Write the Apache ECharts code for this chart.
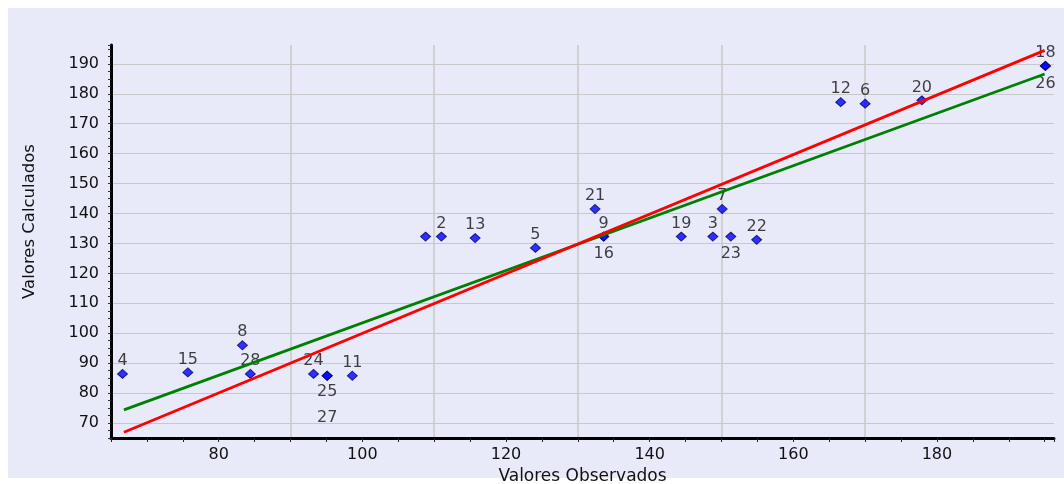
<!DOCTYPE html>
<html><head><meta charset="utf-8">
<script src="https://cdn.jsdelivr.net/npm/echarts@6/dist/echarts.min.js"></script>
<style>
html,body{margin:0;padding:0;background:#ffffff;}
#bg{position:absolute;left:8px;top:8px;width:1056px;height:470px;background:#E8EAFA;}
#chart{position:absolute;left:0;top:0;width:1064px;height:484px;}
</style></head>
<body><div id="bg"></div><div id="chart"></div>
<script>
// ---- data ----
const pointIds   = ['4','15','8','28','24','25','27','11','','2','13','5','21','9','16','19','3','7','23','22','12','6','20','18','26'];
const observed   = [66.6,75.7,83.3,84.4,93.2,95.1,95.1,98.6,108.8,111.0,115.7,124.1,132.4,133.6,133.6,144.4,148.8,150.1,151.3,154.9,166.6,170.0,177.9,195.1,195.1];
const calculated = [86.4,86.9,96.0,86.4,86.4,85.8,85.8,85.8,132.3,132.3,131.8,128.5,141.5,132.3,132.3,132.3,132.3,141.5,132.3,131.2,177.2,176.7,177.8,189.3,189.3];
const idealLineX = [66.8, 195.0];
const idealLineY = [66.9, 194.5];
const fitLineX   = [66.8, 195.0];
const fitLineY   = [74.4, 186.6];
const xLabelValues = [80,100,120,140,160,180];
const yLabelValues = [70,80,90,100,110,120,130,140,150,160,170,180,190];
const xGridValues  = [90,110,130,150,170];
const yGridValues  = [70,80,90,100,110,120,130,140,150,160,170,180,190];
const axisMin = 65, axisMax = 196.3;
const xStep = 5, yStep = 2.5;

// ---- styles ----
const FONT = 'DejaVu Sans';
const TXT = '#111111';
const GRIDC = '#C8C8C8';
const labelBelow = {'16':4,'23':4,'25':3,'26':5,'27':29};

function tickList(step){
  const t=[]; for(let v=axisMin; v<=axisMax+1e-9; v=Math.round((v+step)*1000)/1000){ t.push(v); }
  if (t[t.length-1] < axisMax) t.push(axisMax);
  return t;
}
function gridColors(step, vals){
  return tickList(step).map(v => vals.some(g => Math.abs(g-v)<1e-6) ? GRIDC : 'rgba(0,0,0,0)');
}
function fmt(vals){ return v => vals.some(g => Math.abs(g-v)<1e-6) ? String(Math.round(v)) : ''; }

const scatterData = observed.map((x,i) => {
  const id = pointIds[i];
  const d = { value:[x, calculated[i]], name:id };
  if (id === '') d.label = {show:false};
  else if (labelBelow[id] !== undefined) d.label = {position:'bottom', distance: labelBelow[id]};
  return d;
});

const chart = echarts.init(document.getElementById('chart'));
chart.setOption({
  animation:false,
  backgroundColor:'transparent',
  textStyle:{fontFamily:FONT},
  grid:{left:111, right:10, top:45, bottom:46, containLabel:false, outerBoundsMode:'none'},
  xAxis:{
    type:'value', min:axisMin, max:axisMax, interval:xStep,
    name:'Valores Observados', nameLocation:'middle', nameGap:27,
    nameTextStyle:{fontFamily:FONT, fontSize:17, color:TXT},
    axisLine:{show:true, onZero:false, lineStyle:{color:'#000', width:3}},
    axisTick:{show:true, length:4, lineStyle:{color:'#222', width:1}},
    axisLabel:{formatter:fmt(xLabelValues), margin:9, fontFamily:FONT, fontSize:16, color:TXT, hideOverlap:false},
    splitLine:{show:true, lineStyle:{color:gridColors(xStep, xGridValues), width:1.5}}
  },
  yAxis:{
    type:'value', min:axisMin, max:axisMax, interval:yStep,
    name:'Valores Calculados', nameLocation:'middle', nameGap:73, nameRotate:90,
    nameTextStyle:{fontFamily:FONT, fontSize:16.5, color:TXT, padding:[0,0,0,40]},
    axisLine:{show:true, onZero:false, lineStyle:{color:'#000', width:3}},
    axisTick:{show:true, length:3, lineStyle:{color:'#333', width:1}},
    axisLabel:{formatter:fmt(yLabelValues), margin:12, fontFamily:FONT, fontSize:16, color:TXT, hideOverlap:false},
    splitLine:{show:true, lineStyle:{color:gridColors(yStep, yGridValues), width:1}}
  },
  series:[
    {
      type:'scatter', z:2, symbol:'diamond', symbolSize:[10,9],
      itemStyle:{color:'#0000FF', borderColor:'#000070', borderWidth:1},
      label:{show:true, position:'top', distance:0, formatter:'{b}', fontFamily:FONT, fontSize:16, color:TXT},
      data:scatterData
    },
    {
      type:'line', z:4, symbol:'none', silent:true,
      lineStyle:{color:'#FF0000', width:2.8},
      data:idealLineX.map((x,i)=>[x, idealLineY[i]])
    },
    {
      type:'line', z:3, symbol:'none', silent:true,
      lineStyle:{color:'#008000', width:2.8},
      data:fitLineX.map((x,i)=>[x, fitLineY[i]])
    }
  ]
});
</script>
</body></html>
